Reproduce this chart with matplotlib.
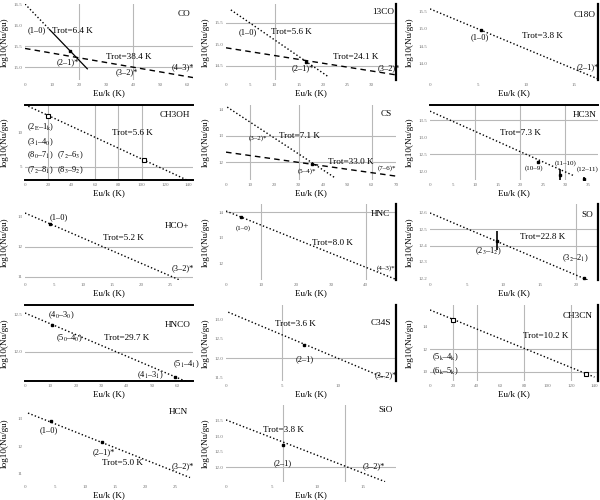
import matplotlib
matplotlib.use('Agg')
import matplotlib.pyplot as plt
import numpy as np

plt.rcParams['font.family'] = ['Liberation Serif', 'DejaVu Serif']
plt.rcParams['mathtext.fontset'] = 'stix'

# ------------------------------------------------------------------ data
names = ['CO', '13CO', 'C18O', 'CH3OH', 'CS', 'HC3N', 'HCO+', 'HNC', 'SO',
         'HNCO', 'C34S', 'CH3CN', 'HCN', 'SiO']

# observed points (Eu/k [K], log10(Nu/gu), error)
co_eu, co_logn = [16.6], [15.38]
c13o_eu, c13o_logn = [16.5], [14.60]
c18o_eu, c18o_logn = [5.27], [14.97]
ch3oh_eu, ch3oh_logn = [20.0, 102.0], [12.35, 6.0]
cs_eu, cs_logn = [35.3], [11.92]
hc3n_eu, hc3n_logn, hc3n_err = [24.0, 28.8, 34.1], [12.26, 11.90, 11.78], [0.03, 0.15, 0.05]
hcop_eu, hcop_logn = [4.28], [12.77]
hnc_eu, hnc_logn = [4.35], [13.80]
so_eu, so_logn, so_err = [9.2, 21.1], [12.43, 12.20], [0.06, 0.01]
hnco_eu, hnco_logn = [10.5, 59.0], [12.37, 11.66]
c34s_eu, c34s_logn = [7.0], [12.34]
ch3cn_eu, ch3cn_logn = [20.0, 133.0], [14.62, 9.80]
hcn_eu, hcn_logn = [4.25, 12.8], [12.90, 12.15]
sio_eu, sio_logn = [6.25], [12.72]

# rotation temperatures and intercepts of the fits
co_trot, co_b = [6.4, 38.4], [16.52, 15.45]
c13o_trot, c13o_b = [5.6, 24.1], [15.88, 14.92]
c18o_trot, c18o_b = [3.8], [15.57]
ch3oh_trot, ch3oh_b = [5.6], [13.9]
cs_trot, cs_b = [7.1, 33.0], [14.14, 12.38]
hc3n_trot, hc3n_b = [7.3], [13.76]
hcop_trot, hcop_b = [5.2], [13.13]
hnc_trot, hnc_b = [8.0], [14.04]
so_trot, so_b = [22.8], [12.60]
hnco_trot, hnco_b = [29.7], [12.527]
c34s_trot, c34s_b = [3.6], [13.20]
ch3cn_trot, ch3cn_b = [10.2], [15.47]
hcn_trot, hcn_b = [5.0], [13.25]
sio_trot, sio_b = [3.8], [13.52]

# tick values
co_xt, co_yt = [0, 10, 20, 30, 40, 50, 60], [15.0, 15.5, 16.0, 16.5]
c13o_xt, c13o_yt = [0, 5, 10, 15, 20, 25, 30], [14.5, 15.0, 15.5]
c18o_xt, c18o_yt = [0, 5, 10, 15], [14.0, 14.5, 15.0, 15.5]
ch3oh_xt, ch3oh_yt = [0, 20, 40, 60, 80, 100, 120, 140], [5, 10]
cs_xt, cs_yt = [0, 10, 20, 30, 40, 50, 60, 70], [12, 13, 14]
hc3n_xt, hc3n_yt = [0, 5, 10, 15, 20, 25, 30, 35], [12.0, 12.5, 13.0, 13.5]
hcop_xt, hcop_yt = [0, 5, 10, 15, 20, 25], [11, 12, 13]
hnc_xt, hnc_yt = [0, 10, 20, 30, 40], [12, 13, 14]
so_xt, so_yt = [0, 5, 10, 15, 20], [12.2, 12.3, 12.4, 12.5, 12.6]
hnco_xt, hnco_yt = [0, 10, 20, 30, 40, 50, 60], [12.0, 12.5]
c34s_xt, c34s_yt = [0, 5, 10], [11.5, 12.0, 12.5, 13.0]
ch3cn_xt, ch3cn_yt = [0, 20, 40, 60, 80, 100, 120, 140], [10, 12, 14]
hcn_xt, hcn_yt = [0, 5, 10, 15, 20, 25], [11, 12, 13]
sio_xt, sio_yt = [0, 5, 10, 15], [12.0, 12.5, 13.0, 13.5]

# ------------------------------------------------------------------ layout
left_px = [25, 226, 430]
right_px = [193, 396, 598]
top_px = [4, 105, 204, 305, 405]
bot_px = [80, 180, 280, 381, 482]

FS_T = 6.6   # Trot / name
FS_L = 6.0   # transitions
FS_S = 5.0   # small transitions

panels = [
    dict(name='CO', rc=(0, 0), xlim=(0, 62), ylim=(14.69, 16.52), xt=co_xt, yt=co_yt,
         vg=[20, 40], hg=[15.0, 15.5], black=[], eu=co_eu, ln=co_logn, err=None, mk='.',
         trot=co_trot, b=co_b,
         segs=[(0, 0, 9, 'dot'), (0, 9, 23, 'solid'), (1, 0, 62, 'dash')],
         texts=[('(1–0)', 1.0, 15.9, 'left', FS_L), ('Trot=6.4 K', 10, 15.86, 'left', FS_T),
                ('(2–1)*', 11.8, 15.12, 'left', FS_L), ('Trot=38.4 K', 30, 15.24, 'left', FS_T),
                ('(3–2)*', 33.6, 14.88, 'left', FS_L), ('(4–3)*', 54, 15.0, 'left', FS_L),
                ('CO', 61, 16.28, 'right', FS_T)]),
    dict(name='13CO', rc=(0, 1), xlim=(0, 35), ylim=(14.17, 15.94), xt=c13o_xt, yt=c13o_yt,
         vg=[10], hg=[14.5, 15.5], black=['right'], eu=c13o_eu, ln=c13o_logn, err=None, mk='.',
         trot=c13o_trot, b=c13o_b,
         segs=[(0, 1, 21, 'dot'), (1, 0, 35, 'dash')],
         texts=[('(1–0)', 2.5, 15.29, 'left', FS_L), ('Trot=5.6 K', 9.3, 15.29, 'left', FS_T),
                ('Trot=24.1 K', 22, 14.71, 'left', FS_T), ('(2–1)*', 13.6, 14.45, 'left', FS_L),
                ('(3–2)*', 31.3, 14.45, 'left', FS_L), ('13CO', 34.7, 15.76, 'right', FS_T)]),
    dict(name='C18O', rc=(0, 2), xlim=(0, 17.5), ylim=(13.54, 15.71), xt=c18o_xt, yt=c18o_yt,
         vg=[], hg=[], black=['right'], eu=c18o_eu, ln=c18o_logn, err=None, mk='.',
         trot=c18o_trot, b=c18o_b,
         segs=[(0, 0, 17.5, 'dot')],
         texts=[('(1–0)', 4.2, 14.77, 'left', FS_L), ('Trot=3.8 K', 9.6, 14.8, 'left', FS_T),
                ('(2–1)*', 15.3, 13.91, 'left', FS_L), ('C18O', 17.3, 15.4, 'right', FS_T)]),
    dict(name='CH3OH', rc=(1, 0), xlim=(0, 144), ylim=(3.14, 13.86), xt=ch3oh_xt, yt=ch3oh_yt,
         vg=[20, 60, 80, 100], hg=[5], black=['top', 'bottom'], eu=ch3oh_eu, ln=ch3oh_logn,
         err=None, mk='s', trot=ch3oh_trot, b=ch3oh_b,
         segs=[(0, 0, 144, 'dot')],
         texts=[(r'(2$_{\rm E}$–1$_{\rm k}$)', 1.7, 10.7, 'left', FS_L),
                (r'(3$_1$–4$_0$)', 1.7, 8.6, 'left', FS_L),
                (r'(8$_0$–7$_1$)', 1.7, 6.7, 'left', FS_L),
                (r'(7$_2$–6$_3$)', 27.4, 6.7, 'left', FS_L),
                (r'(7$_2$–8$_1$)', 1.7, 4.57, 'left', FS_L),
                (r'(8$_3$–9$_2$)', 27.4, 4.57, 'left', FS_L),
                ('Trot=5.6 K', 74.6, 9.86, 'left', FS_T), ('CH3OH', 141, 12.4, 'right', FS_T)]),
    dict(name='CS', rc=(1, 1), xlim=(0, 70), ylim=(11.31, 14.19), xt=cs_xt, yt=cs_yt,
         vg=[10, 30, 60], hg=[12, 13], black=[], eu=cs_eu, ln=cs_logn, err=None, mk='.',
         trot=cs_trot, b=cs_b,
         segs=[(0, 0.5, 45, 'dot'), (1, 0, 70, 'dash')],
         texts=[('(3–2)*', 9.5, 12.92, 'left', FS_S), ('Trot=7.1 K', 21.8, 13.0, 'left', FS_T),
                ('Trot=33.0 K', 42, 12.0, 'left', FS_T), ('(5–4)*', 29.6, 11.65, 'left', FS_S),
                ('(7–6)*', 62.5, 11.77, 'left', FS_S), ('CS', 68.5, 13.85, 'right', FS_T)]),
    dict(name='HC3N', rc=(1, 2), xlim=(0, 37.2), ylim=(11.74, 13.94), xt=hc3n_xt, yt=hc3n_yt,
         vg=[10, 20, 30], hg=[12.5, 13.5], black=['top'], eu=hc3n_eu, ln=hc3n_logn,
         err=hc3n_err, mk='.', trot=hc3n_trot, b=hc3n_b,
         segs=[(0, 0, 32, 'dot')],
         texts=[('Trot=7.3 K', 15.5, 13.12, 'left', FS_T), ('(10–9)', 21, 12.09, 'left', FS_S),
                ('(11–10)', 27.7, 12.24, 'left', FS_S), ('(12–11)', 32.5, 12.06, 'left', FS_S),
                ('HC3N', 37, 13.65, 'right', FS_T)]),
    dict(name='HCO+', rc=(2, 0), xlim=(0, 29), ylim=(10.9, 13.43), xt=hcop_xt, yt=hcop_yt,
         vg=[], hg=[11, 12], black=[], eu=hcop_eu, ln=hcop_logn, err=None, mk='.',
         trot=hcop_trot, b=hcop_b,
         segs=[(0, 0, 28.5, 'dot')],
         texts=[('(1–0)', 4.3, 13.0, 'left', FS_L), ('Trot=5.2 K', 13.5, 12.3, 'left', FS_T),
                ('(3–2)*', 25.3, 11.3, 'left', FS_L), ('HCO+', 28.4, 12.7, 'right', FS_T)]),
    dict(name='HNC', rc=(2, 1), xlim=(0, 48.6), ylim=(11.38, 14.31), xt=hnc_xt, yt=hnc_yt,
         vg=[10, 40], hg=[14], black=['right'], eu=hnc_eu, ln=hnc_logn, err=None, mk='.',
         trot=hnc_trot, b=hnc_b,
         segs=[(0, 0, 48.3, 'dot')],
         texts=[('(1–0)', 2.9, 13.38, 'left', FS_S), ('Trot=8.0 K', 24.6, 12.8, 'left', FS_T),
                ('(4–3)*', 43.2, 11.85, 'left', FS_S), ('HNC', 47, 13.92, 'right', FS_T)]),
    dict(name='SO', rc=(2, 2), xlim=(0, 23), ylim=(12.189, 12.655), xt=so_xt, yt=so_yt,
         vg=[20], hg=[12.4, 12.5], black=['right'], eu=so_eu, ln=so_logn, err=so_err, mk='.',
         trot=so_trot, b=so_b,
         segs=[(0, 0, 22.2, 'dot')],
         texts=[(r'(2$_3$–1$_2$)', 6.2, 12.363, 'left', FS_L),
                ('Trot=22.8 K', 12.3, 12.455, 'left', FS_T),
                (r'(3$_2$–2$_1$)', 18.1, 12.32, 'left', FS_L), ('SO', 22.3, 12.59, 'right', FS_T)]),
    dict(name='HNCO', rc=(3, 0), xlim=(0, 66), ylim=(11.608, 12.635), xt=hnco_xt, yt=hnco_yt,
         vg=[], hg=[12.0], black=['top', 'bottom'], eu=hnco_eu, ln=hnco_logn, err=None, mk='.',
         trot=hnco_trot, b=hnco_b,
         segs=[(0, 0, 66, 'dot')],
         texts=[(r'(4$_0$–3$_0$)', 9, 12.5, 'left', FS_L), (r'(5$_0$–4$_0$)', 12, 12.19, 'left', FS_L),
                ('Trot=29.7 K', 31, 12.19, 'left', FS_T), (r'(4$_1$–3$_1$)', 44, 11.69, 'left', FS_L),
                (r'(5$_1$–4$_1$)', 58, 11.84, 'left', FS_L), ('HNCO', 65, 12.36, 'right', FS_T)]),
    dict(name='C34S', rc=(3, 1), xlim=(0, 15.2), ylim=(11.41, 13.36), xt=c34s_xt, yt=c34s_yt,
         vg=[5], hg=[12.0], black=['right'], eu=c34s_eu, ln=c34s_logn, err=None, mk='.',
         trot=c34s_trot, b=c34s_b,
         segs=[(0, 0.2, 14.2, 'dot')],
         texts=[('Trot=3.6 K', 4.4, 12.87, 'left', FS_T), ('(2–1)', 7.0, 11.97, 'center', FS_L),
                ('(3–2)*', 13.3, 11.56, 'left', FS_L), ('C34S', 14.8, 12.9, 'right', FS_T)]),
    dict(name='CH3CN', rc=(3, 2), xlim=(0, 143), ylim=(9.16, 15.91), xt=ch3cn_xt, yt=ch3cn_yt,
         vg=[20, 40, 80, 120], hg=[10, 12], black=['right'], eu=ch3cn_eu, ln=ch3cn_logn,
         err=None, mk='s', trot=ch3cn_trot, b=ch3cn_b,
         segs=[(0, 0, 140, 'dot')],
         texts=[('Trot=10.2 K', 79, 13.16, 'left', FS_T),
                (r'(5$_{\rm k}$–4$_{\rm k}$)', 1.7, 11.3, 'left', FS_L),
                (r'(6$_{\rm k}$–5$_{\rm k}$)', 1.7, 10.05, 'left', FS_L),
                ('CH3CN', 138, 14.93, 'right', FS_T)]),
    dict(name='HCN', rc=(4, 0), xlim=(0, 28), ylim=(10.7, 13.5), xt=hcn_xt, yt=hcn_yt,
         vg=[], hg=[], black=[], eu=hcn_eu, ln=hcn_logn, err=None, mk='.',
         trot=hcn_trot, b=hcn_b,
         segs=[(0, 0.5, 27.5, 'dot')],
         texts=[('(1–0)', 2.5, 12.59, 'left', FS_L), ('Trot=5.0 K', 12.8, 11.38, 'left', FS_T),
                ('(2–1)*', 11.3, 11.8, 'left', FS_L), ('(3–2)*', 24.5, 11.28, 'left', FS_L),
                ('HCN', 27.2, 13.25, 'right', FS_T)]),
    dict(name='SiO', rc=(4, 1), xlim=(0, 18.6), ylim=(11.52, 14.0), xt=sio_xt, yt=sio_yt,
         vg=[6.25, 13.0], hg=[12.0], black=[], eu=sio_eu, ln=sio_logn, err=None, mk='.',
         trot=sio_trot, b=sio_b,
         segs=[(0, 0, 17.4, 'dot')],
         texts=[('Trot=3.8 K', 4.05, 13.19, 'left', FS_T), ('(2–1)', 6.25, 12.13, 'center', FS_L),
                ('(3–2)*', 14.9, 12.03, 'left', FS_L), ('SiO', 18.2, 13.84, 'right', FS_T)]),
]

STYLES = {'dot': dict(linestyle=(0, (1, 1.6)), lw=1.0),
          'dash': dict(linestyle=(0, (4, 3)), lw=1.0),
          'solid': dict(linestyle='-', lw=0.9)}

fig = plt.figure(figsize=(6, 5), dpi=100)

for p in panels:
    r, c = p['rc']
    l, rr = left_px[c], right_px[c]
    t, bt = top_px[r], bot_px[r]
    ax = fig.add_axes([l / 600, 1 - bt / 500, (rr - l) / 600, (bt - t) / 500])
    ax.set_xlim(*p['xlim'])
    ax.set_ylim(*p['ylim'])
    for s in ax.spines.values():
        s.set_visible(False)
    ax.set_xticks(p['xt'])
    ax.set_yticks(p['yt'])
    ax.set_xticklabels([('%g' % v) for v in p['xt']])
    allint = all(float(u).is_integer() for u in p['yt'])
    ax.set_yticklabels([('%d' % v) if allint else ('%.1f' % v) for v in p['yt']])
    ax.tick_params(length=0, labelsize=3.6, labelcolor='0.45', pad=2)
    for v in p['vg']:
        ax.axvline(v, color='0.72', lw=0.8, zorder=0)
    for h in p['hg']:
        ax.axhline(h, color='0.72', lw=0.8, zorder=0)
    for side in p['black']:
        if side == 'right':
            ax.axvline(p['xlim'][1], color='black', lw=1.6, clip_on=False)
        elif side == 'top':
            ax.axhline(p['ylim'][1], color='black', lw=1.4, clip_on=False)
        elif side == 'bottom':
            ax.axhline(p['ylim'][0], color='black', lw=1.4, clip_on=False)
    for (k, x0, x1, st) in p['segs']:
        xs = np.array([x0, x1])
        ys = p['b'][k] - xs / (p['trot'][k] * np.log(10))
        ax.plot(xs, ys, color='black', **STYLES[st])
    if p['err'] is not None:
        ax.errorbar(p['eu'], p['ln'], yerr=p['err'], fmt='none', ecolor='black',
                    elinewidth=1.2, capsize=0)
    if p['mk'] == 's':
        ax.plot(p['eu'], p['ln'], 's', ms=3, mfc='white', mec='black', mew=0.8, ls='none')
    else:
        ax.plot(p['eu'], p['ln'], 's', ms=1.8, color='black', ls='none')
    for (txt, x, y, ha, fs) in p['texts']:
        ax.text(x, y, txt, ha=ha, va='center', fontsize=fs, color='black')
    ax.set_xlabel('Eu/k (K)', fontsize=6.6)
    ax.xaxis.set_label_coords(0.5, -9.5 / (bt - t))
    ax.set_ylabel('log10(Nu/gu)', fontsize=6.6)
    ax.yaxis.set_label_coords(-16.5 / (rr - l), 0.5)

fig.savefig('out.png', dpi=100)
